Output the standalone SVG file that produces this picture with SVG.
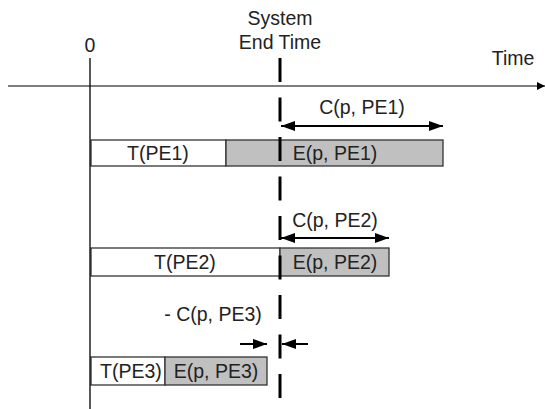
<svg xmlns="http://www.w3.org/2000/svg" width="545" height="409" viewBox="0 0 545 409">
<style>
text{font-family:"Liberation Sans",Arial,sans-serif;font-size:19.5px;fill:#222;text-anchor:middle}
.box{stroke:#333;stroke-width:1.3}
.t{fill:#fff}
.e{fill:#c0c0c0}
.arr{stroke:#000;stroke-width:2;fill:none}
</style>
<defs>
<marker id="ah" viewBox="0 0 14 10" refX="14" refY="5" markerWidth="14" markerHeight="10" markerUnits="userSpaceOnUse" orient="auto-start-reverse">
<path d="M0,0 L14,5 L0,10 Z" fill="#000"/>
</marker>
<marker id="ax" viewBox="0 0 8 8" refX="8" refY="4" markerWidth="8" markerHeight="8" markerUnits="userSpaceOnUse" orient="auto">
<path d="M0,0 L8,4 L0,8 Z" fill="#000"/>
</marker>
</defs>
<g id="labels">
<text x="90" y="52">0</text>
<text x="280" y="25">System</text>
<text x="280" y="49">End Time</text>
<text x="513" y="65">Time</text>
</g>
<g id="row1">
<rect class="box t" x="91" y="140" width="135" height="26"/>
<rect class="box e" x="226" y="140" width="217" height="26"/>
<text x="158" y="160">T(PE1)</text>
<text x="335" y="160">E(p, PE1)</text>
<text x="362" y="114">C(p, PE1)</text>
</g>
<g id="row2">
<rect class="box t" x="91" y="248" width="189" height="28"/>
<rect class="box e" x="280" y="248" width="109" height="28"/>
<text x="185" y="269">T(PE2)</text>
<text x="335" y="269">E(p, PE2)</text>
<text x="335" y="227">C(p, PE2)</text>
</g>
<g id="row3">
<rect class="box t" x="91" y="357" width="74" height="28"/>
<rect class="box e" x="165" y="357" width="102" height="28"/>
<text x="131" y="378">T(PE3)</text>
<text x="216" y="378">E(p, PE3)</text>
<text x="213" y="321">- C(p, PE3)</text>
</g>
<g id="connectors">
<line x1="8" y1="86" x2="545" y2="86" stroke="#555" stroke-width="1.5" marker-end="url(#ax)"/>
<line x1="90" y1="58" x2="90" y2="409" stroke="#000" stroke-width="1.3"/>
<line x1="280" y1="58" x2="280" y2="398" stroke="#000" stroke-width="3" stroke-dasharray="24 15.5"/>
<line class="arr" x1="281" y1="126" x2="443" y2="126" marker-start="url(#ah)" marker-end="url(#ah)"/>
<line class="arr" x1="281" y1="238" x2="389" y2="238" marker-start="url(#ah)" marker-end="url(#ah)"/>
<line class="arr" x1="240" y1="344" x2="267" y2="344" marker-end="url(#ah)"/>
<line class="arr" x1="308" y1="344" x2="282" y2="344" marker-end="url(#ah)"/>
</g>
</svg>
